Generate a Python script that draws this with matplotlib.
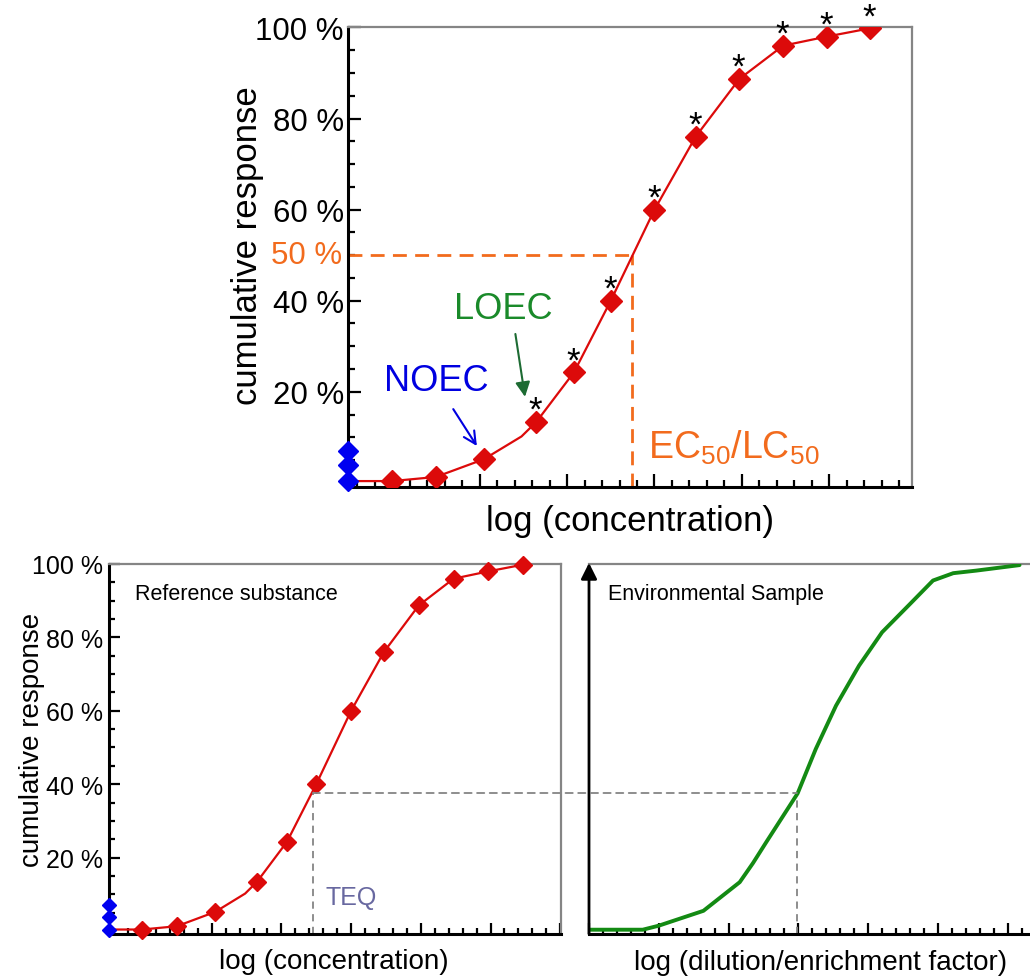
import matplotlib
matplotlib.use("Agg")
import matplotlib.pyplot as plt
from matplotlib.ticker import MultipleLocator
from matplotlib.patches import ConnectionPatch

plt.rcParams['font.family'] = ['Liberation Sans', 'DejaVu Sans']
plt.rcParams['mathtext.fontset'] = 'custom'
plt.rcParams['mathtext.rm'] = 'Liberation Sans'
plt.rcParams['mathtext.it'] = 'Liberation Sans:italic'

# dose-response data of the reference substance (log conc., % response)
conc = [0, 0.5, 1.05, 1.65, 2.08, 2.5, 3.0, 3.47, 3.97, 4.47, 4.97, 5.46]
resp = [0.4, 1.3, 5.2, 13.4, 24.3, 40.0, 60.0, 76.0, 88.7, 96.0, 98.0, 99.8]
# line through the points (with the bend between 3rd and 4th point)
line_x = [0, 0.5, 1.05, 1.48, 1.65, 2.08, 2.5, 3.0, 3.47, 3.97, 4.47, 4.97, 5.46]
line_y = [0.4, 1.3, 5.2, 10.2, 13.4, 24.3, 40.0, 60.0, 76.0, 88.7, 96.0, 98.0, 99.8]
control = [0.4, 3.9, 7.0]
signif = [False, False, False, True, True, True, True, True, True, True, True, True]
ec50 = 2.74

# environmental sample curve
env_x = [0, 0.77, 1.0, 1.64, 2.16, 2.35, 2.54, 2.99, 3.25, 3.54, 3.87, 4.20,
         4.60, 4.93, 5.22, 5.55, 6.17]
env_y = [0.35, 0.35, 1.45, 5.5, 13.3, 18.5, 24.2, 37.5, 49.6, 61.4, 72.3, 81.4,
         89.1, 95.5, 97.5, 98.2, 99.7]
teq_y = 37.6
teq_ref = 2.45
teq_env = 2.98

yticks = [20, 40, 60, 80, 100]
ylabels = ['%d %%' % v for v in yticks]

red = '#dc0a0a'
orange = '#f26b1d'
grey = '#858585'

fig = plt.figure(figsize=(10.3, 9.79), dpi=100)


def style_axes(ax, major_len, minor_len):
    for s in ['top', 'right']:
        ax.spines[s].set_color(grey)
        ax.spines[s].set_linewidth(1.6)
    for s in ['left', 'bottom']:
        ax.spines[s].set_linewidth(2.2)
    ax.xaxis.set_major_locator(MultipleLocator(1))
    ax.xaxis.set_minor_locator(MultipleLocator(0.2))
    ax.yaxis.set_minor_locator(MultipleLocator(5))
    ax.tick_params(which='both', direction='in', width=1.6, top=False, right=False)
    ax.tick_params(which='major', length=major_len)
    ax.tick_params(which='minor', length=minor_len)
    ax.set_xticklabels([])


# ---- top panel
ax1 = fig.add_axes([348 / 1030, 1 - 488 / 979, 564 / 1030, 460 / 979])
style_axes(ax1, 9.5, 5)
ax1.set_xlim(-0.503, 5.943)
ax1.set_ylim(-0.9, 100.1)
ax1.set_yticks(yticks)
ax1.set_yticklabels(ylabels, fontsize=22.5)
ax1.tick_params(axis='y', pad=3)

ax1.plot([-0.503, 2.74], [50, 50], color=orange, lw=2, dashes=(5, 3))
ax1.plot([ec50, ec50], [-0.9, 50], color=orange, lw=2, dashes=(5, 3))
ax1.plot([-0.503] + line_x, [control[0]] + line_y, color=red, lw=1.6, zorder=3)
ax1.plot(conc, resp, 'D', color=red, ms=11, zorder=4)
ax1.plot([-0.503] * 3, control, 'D', color='#0000f0', ms=10, zorder=5, clip_on=False)
for x, y, s in zip(conc, resp, signif):
    if s:
        ax1.annotate('*', (x, y), xytext=(-0.5, 1.5), textcoords='offset points',
                     ha='center', va='baseline', fontsize=25, annotation_clip=False)

ax1.text(-0.01, 50, '50 %', color=orange, fontsize=22.5, ha='right', va='center',
         transform=ax1.get_yaxis_transform())
ax1.text(0.51, 22.4, 'NOEC', color='#0000e0', fontsize=26, ha='center', va='center')
ax1.annotate('', xy=(0.97, 8.1), xytext=(0.70, 16.2),
             arrowprops=dict(arrowstyle='->', color='#0000e0', lw=1.5, mutation_scale=22,
                             shrinkA=0, shrinkB=0))
ax1.text(1.27, 38.2, 'LOEC', color='#1a8a2a', fontsize=26, ha='center', va='center')
ax1.annotate('', xy=(1.52, 18.9), xytext=(1.41, 32.7),
             arrowprops=dict(arrowstyle='-|>', color='#1d6b33', lw=1.5, mutation_scale=22,
                             shrinkA=0, shrinkB=0))
ax1.text(2.93, 8.0, r'EC$_{50}$/LC$_{50}$', color=orange, fontsize=27, ha='left', va='center')

ax1.set_ylabel('cumulative response', fontsize=25, va='center')
ax1.yaxis.set_label_coords(-0.179, 0.526)
ax1.set_xlabel('log (concentration)', fontsize=25, va='center')
ax1.xaxis.set_label_coords(0.5, -0.072)

# ---- bottom left: reference substance
ax2 = fig.add_axes([109 / 1030, 1 - 935 / 979, 452 / 1030, 370 / 979])
style_axes(ax2, 8, 4)
ax2.set_xlim(-0.473, 6.011)
ax2.set_ylim(-0.82, 100)
ax2.set_yticks(yticks)
ax2.set_yticklabels(ylabels, fontsize=18)
ax2.tick_params(axis='y', pad=4)

ax2.plot([teq_ref, teq_ref], [-0.82, teq_y], color=grey, lw=1.3, dashes=(4, 3))
ax2.plot([-0.473] + line_x, [control[0]] + line_y, color=red, lw=1.6, zorder=3)
ax2.plot(conc, resp, 'D', color=red, ms=9, zorder=4, clip_on=False)
ax2.plot([-0.473] * 3, control, 'D', color='#0000f0', ms=7.5, zorder=5, clip_on=False)
ax2.text(0.0575, 0.92, 'Reference substance', fontsize=15.5, transform=ax2.transAxes,
         ha='left', va='center')
ax2.text(2.63, 9.3, 'TEQ', color='#6868a0', fontsize=18, ha='left', va='center')
ax2.set_ylabel('cumulative response', fontsize=20, va='center')
ax2.yaxis.set_label_coords(-0.17, 0.527)
ax2.set_xlabel('log (concentration)', fontsize=20, va='center')
ax2.xaxis.set_label_coords(0.498, -0.073)

# ---- bottom right: environmental sample
ax3 = fig.add_axes([589 / 1030, 1 - 935 / 979, 441 / 1030, 370 / 979])
style_axes(ax3, 8, 4)
ax3.spines['left'].set_visible(False)
ax3.spines['right'].set_visible(False)
ax3.tick_params(axis='y', which='both', left=False, labelleft=False)
ax3.set_xlim(0, 6.32)
ax3.set_ylim(-0.82, 100)
ax3.plot([teq_env, teq_env], [-0.82, teq_y], color=grey, lw=1.3, dashes=(4, 3))
ax3.plot(env_x, env_y, color='#138a13', lw=2.8, solid_capstyle='round',
         solid_joinstyle='round', zorder=3)
ax3.annotate('', xy=(0, 100.3), xytext=(0, -0.82), annotation_clip=False,
             arrowprops=dict(arrowstyle='-|>', color='k', lw=2, mutation_scale=24,
                             shrinkA=0, shrinkB=0))
ax3.text(0.043, 0.92, 'Environmental Sample', fontsize=15.5, transform=ax3.transAxes,
         ha='left', va='center')
ax3.set_xlabel('log (dilution/enrichment factor)', fontsize=20, va='center')
ax3.xaxis.set_label_coords(0.524, -0.076)

con = ConnectionPatch(xyA=(teq_ref, teq_y), coordsA=ax2.transData,
                      xyB=(teq_env, teq_y), coordsB=ax3.transData,
                      color=grey, lw=1.3, linestyle=(0, (4, 3)))
fig.add_artist(con)

fig.savefig('out.png', dpi=100)
